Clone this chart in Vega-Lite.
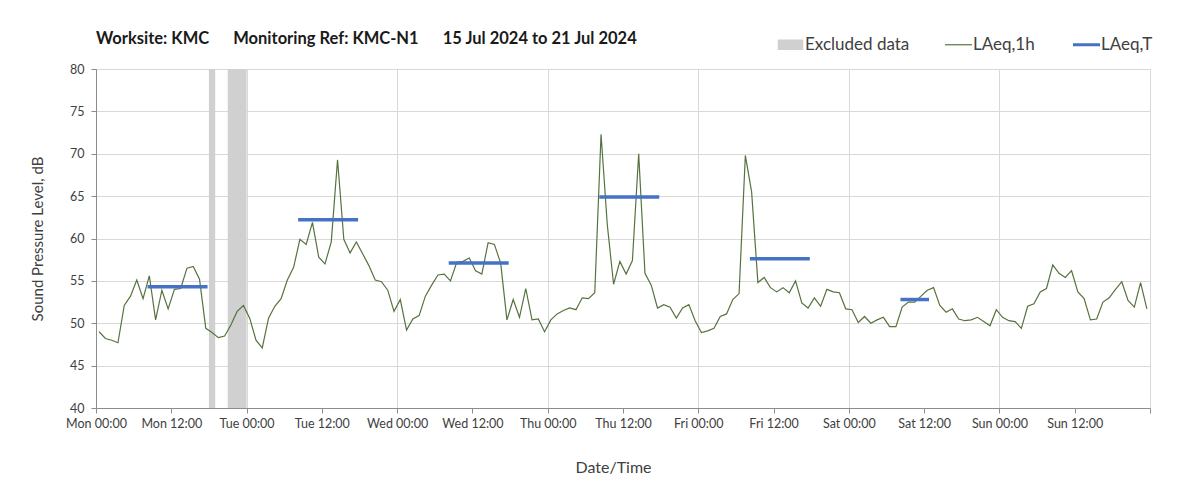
{
  "$schema": "https://vega.github.io/schema/vega-lite/v6.json",
  "width": 1054,
  "height": 339,
  "autosize": {"type": "none"},
  "padding": {"left": 96, "top": 69, "right": 53, "bottom": 91},
  "background": "white",
  "config": {"view": {"stroke": null}, "font": "Lato"},
  "title": {
    "text": "Worksite: KMC\u00a0\u00a0\u00a0\u00a0\u00a0 Monitoring Ref: KMC-N1\u00a0\u00a0\u00a0\u00a0\u00a0 15 Jul 2024 to 21 Jul 2024",
    "anchor": "start",
    "frame": "group",
    "font": "Lato",
    "fontSize": 16.5,
    "fontWeight": "bold",
    "color": "#1a1a1a",
    "baseline": "alphabetic",
    "offset": 22,
    "dy": 46
  },
  "datasets": {
    "excl": [
      {"start": "2024-07-15T18:00", "end": "2024-07-15T19:00"},
      {"start": "2024-07-15T21:00", "end": "2024-07-16T00:00"}
    ],
    "period": [
      {"start": "2024-07-15T08:30", "end": "2024-07-15T17:30", "v": 54.3},
      {"start": "2024-07-16T08:30", "end": "2024-07-16T17:30", "v": 62.2},
      {"start": "2024-07-17T08:30", "end": "2024-07-17T17:30", "v": 57.1},
      {"start": "2024-07-18T08:30", "end": "2024-07-18T17:30", "v": 64.9},
      {"start": "2024-07-19T08:30", "end": "2024-07-19T17:30", "v": 57.6},
      {"start": "2024-07-20T08:30", "end": "2024-07-20T12:30", "v": 52.8}
    ],
    "hourly": [
      {"t": "2024-07-15T00:30", "v": 49.0}, {"t": "2024-07-15T01:30", "v": 48.2}, {"t": "2024-07-15T02:30", "v": 48.0}, {"t": "2024-07-15T03:30", "v": 47.7},
      {"t": "2024-07-15T04:30", "v": 52.1}, {"t": "2024-07-15T05:30", "v": 53.2}, {"t": "2024-07-15T06:30", "v": 55.1}, {"t": "2024-07-15T07:30", "v": 52.9},
      {"t": "2024-07-15T08:30", "v": 55.6}, {"t": "2024-07-15T09:30", "v": 50.4}, {"t": "2024-07-15T10:30", "v": 53.9}, {"t": "2024-07-15T11:30", "v": 51.7},
      {"t": "2024-07-15T12:30", "v": 54.0}, {"t": "2024-07-15T13:30", "v": 54.1}, {"t": "2024-07-15T14:30", "v": 56.5}, {"t": "2024-07-15T15:30", "v": 56.7},
      {"t": "2024-07-15T16:30", "v": 55.2}, {"t": "2024-07-15T17:30", "v": 49.4}, {"t": "2024-07-15T18:30", "v": 48.9}, {"t": "2024-07-15T19:30", "v": 48.3},
      {"t": "2024-07-15T20:30", "v": 48.5}, {"t": "2024-07-15T21:30", "v": 49.8}, {"t": "2024-07-15T22:30", "v": 51.4}, {"t": "2024-07-15T23:30", "v": 52.1},
      {"t": "2024-07-16T00:30", "v": 50.6}, {"t": "2024-07-16T01:30", "v": 48.0}, {"t": "2024-07-16T02:30", "v": 47.1}, {"t": "2024-07-16T03:30", "v": 50.6},
      {"t": "2024-07-16T04:30", "v": 52.0}, {"t": "2024-07-16T05:30", "v": 52.9}, {"t": "2024-07-16T06:30", "v": 55.1}, {"t": "2024-07-16T07:30", "v": 56.6},
      {"t": "2024-07-16T08:30", "v": 59.9}, {"t": "2024-07-16T09:30", "v": 59.3}, {"t": "2024-07-16T10:30", "v": 61.9}, {"t": "2024-07-16T11:30", "v": 57.8},
      {"t": "2024-07-16T12:30", "v": 57.0}, {"t": "2024-07-16T13:30", "v": 59.6}, {"t": "2024-07-16T14:30", "v": 69.3}, {"t": "2024-07-16T15:30", "v": 59.9},
      {"t": "2024-07-16T16:30", "v": 58.3}, {"t": "2024-07-16T17:30", "v": 59.6}, {"t": "2024-07-16T18:30", "v": 58.2}, {"t": "2024-07-16T19:30", "v": 56.8},
      {"t": "2024-07-16T20:30", "v": 55.1}, {"t": "2024-07-16T21:30", "v": 54.9}, {"t": "2024-07-16T22:30", "v": 53.9}, {"t": "2024-07-16T23:30", "v": 51.4},
      {"t": "2024-07-17T00:30", "v": 52.8}, {"t": "2024-07-17T01:30", "v": 49.2}, {"t": "2024-07-17T02:30", "v": 50.5}, {"t": "2024-07-17T03:30", "v": 50.9},
      {"t": "2024-07-17T04:30", "v": 53.2}, {"t": "2024-07-17T05:30", "v": 54.5}, {"t": "2024-07-17T06:30", "v": 55.7}, {"t": "2024-07-17T07:30", "v": 55.8},
      {"t": "2024-07-17T08:30", "v": 55.0}, {"t": "2024-07-17T09:30", "v": 57.2}, {"t": "2024-07-17T10:30", "v": 57.3}, {"t": "2024-07-17T11:30", "v": 57.7},
      {"t": "2024-07-17T12:30", "v": 56.2}, {"t": "2024-07-17T13:30", "v": 55.8}, {"t": "2024-07-17T14:30", "v": 59.5}, {"t": "2024-07-17T15:30", "v": 59.3},
      {"t": "2024-07-17T16:30", "v": 57.1}, {"t": "2024-07-17T17:30", "v": 50.4}, {"t": "2024-07-17T18:30", "v": 52.8}, {"t": "2024-07-17T19:30", "v": 50.7},
      {"t": "2024-07-17T20:30", "v": 54.1}, {"t": "2024-07-17T21:30", "v": 50.4}, {"t": "2024-07-17T22:30", "v": 50.5}, {"t": "2024-07-17T23:30", "v": 49.0},
      {"t": "2024-07-18T00:30", "v": 50.4}, {"t": "2024-07-18T01:30", "v": 51.1}, {"t": "2024-07-18T02:30", "v": 51.5}, {"t": "2024-07-18T03:30", "v": 51.8},
      {"t": "2024-07-18T04:30", "v": 51.6}, {"t": "2024-07-18T05:30", "v": 53.0}, {"t": "2024-07-18T06:30", "v": 52.9}, {"t": "2024-07-18T07:30", "v": 53.6},
      {"t": "2024-07-18T08:30", "v": 72.3}, {"t": "2024-07-18T09:30", "v": 61.6}, {"t": "2024-07-18T10:30", "v": 54.6}, {"t": "2024-07-18T11:30", "v": 57.3},
      {"t": "2024-07-18T12:30", "v": 55.8}, {"t": "2024-07-18T13:30", "v": 57.4}, {"t": "2024-07-18T14:30", "v": 70.0}, {"t": "2024-07-18T15:30", "v": 55.9},
      {"t": "2024-07-18T16:30", "v": 54.5}, {"t": "2024-07-18T17:30", "v": 51.8}, {"t": "2024-07-18T18:30", "v": 52.2}, {"t": "2024-07-18T19:30", "v": 51.9},
      {"t": "2024-07-18T20:30", "v": 50.6}, {"t": "2024-07-18T21:30", "v": 51.8}, {"t": "2024-07-18T22:30", "v": 52.2}, {"t": "2024-07-18T23:30", "v": 50.3},
      {"t": "2024-07-19T00:30", "v": 48.9}, {"t": "2024-07-19T01:30", "v": 49.1}, {"t": "2024-07-19T02:30", "v": 49.4}, {"t": "2024-07-19T03:30", "v": 50.8},
      {"t": "2024-07-19T04:30", "v": 51.1}, {"t": "2024-07-19T05:30", "v": 52.8}, {"t": "2024-07-19T06:30", "v": 53.5}, {"t": "2024-07-19T07:30", "v": 69.8},
      {"t": "2024-07-19T08:30", "v": 65.5}, {"t": "2024-07-19T09:30", "v": 54.8}, {"t": "2024-07-19T10:30", "v": 55.4}, {"t": "2024-07-19T11:30", "v": 54.2},
      {"t": "2024-07-19T12:30", "v": 53.7}, {"t": "2024-07-19T13:30", "v": 54.2}, {"t": "2024-07-19T14:30", "v": 53.6}, {"t": "2024-07-19T15:30", "v": 55.0},
      {"t": "2024-07-19T16:30", "v": 52.4}, {"t": "2024-07-19T17:30", "v": 51.8}, {"t": "2024-07-19T18:30", "v": 53.0}, {"t": "2024-07-19T19:30", "v": 52.0},
      {"t": "2024-07-19T20:30", "v": 54.0}, {"t": "2024-07-19T21:30", "v": 53.7}, {"t": "2024-07-19T22:30", "v": 53.6}, {"t": "2024-07-19T23:30", "v": 51.7},
      {"t": "2024-07-20T00:30", "v": 51.6}, {"t": "2024-07-20T01:30", "v": 50.1}, {"t": "2024-07-20T02:30", "v": 50.8}, {"t": "2024-07-20T03:30", "v": 50.0},
      {"t": "2024-07-20T04:30", "v": 50.4}, {"t": "2024-07-20T05:30", "v": 50.7}, {"t": "2024-07-20T06:30", "v": 49.6}, {"t": "2024-07-20T07:30", "v": 49.6},
      {"t": "2024-07-20T08:30", "v": 51.9}, {"t": "2024-07-20T09:30", "v": 52.5}, {"t": "2024-07-20T10:30", "v": 52.5}, {"t": "2024-07-20T11:30", "v": 53.2},
      {"t": "2024-07-20T12:30", "v": 53.9}, {"t": "2024-07-20T13:30", "v": 54.2}, {"t": "2024-07-20T14:30", "v": 52.1}, {"t": "2024-07-20T15:30", "v": 51.3},
      {"t": "2024-07-20T16:30", "v": 51.7}, {"t": "2024-07-20T17:30", "v": 50.5}, {"t": "2024-07-20T18:30", "v": 50.3}, {"t": "2024-07-20T19:30", "v": 50.4},
      {"t": "2024-07-20T20:30", "v": 50.7}, {"t": "2024-07-20T21:30", "v": 50.2}, {"t": "2024-07-20T22:30", "v": 49.7}, {"t": "2024-07-20T23:30", "v": 51.6},
      {"t": "2024-07-21T00:30", "v": 50.7}, {"t": "2024-07-21T01:30", "v": 50.3}, {"t": "2024-07-21T02:30", "v": 50.2}, {"t": "2024-07-21T03:30", "v": 49.4},
      {"t": "2024-07-21T04:30", "v": 52.0}, {"t": "2024-07-21T05:30", "v": 52.3}, {"t": "2024-07-21T06:30", "v": 53.7}, {"t": "2024-07-21T07:30", "v": 54.1},
      {"t": "2024-07-21T08:30", "v": 56.9}, {"t": "2024-07-21T09:30", "v": 55.9}, {"t": "2024-07-21T10:30", "v": 55.4}, {"t": "2024-07-21T11:30", "v": 56.2},
      {"t": "2024-07-21T12:30", "v": 53.7}, {"t": "2024-07-21T13:30", "v": 52.9}, {"t": "2024-07-21T14:30", "v": 50.4}, {"t": "2024-07-21T15:30", "v": 50.5},
      {"t": "2024-07-21T16:30", "v": 52.5}, {"t": "2024-07-21T17:30", "v": 53.0}, {"t": "2024-07-21T18:30", "v": 54.0}, {"t": "2024-07-21T19:30", "v": 54.9},
      {"t": "2024-07-21T20:30", "v": 52.7}, {"t": "2024-07-21T21:30", "v": 51.9}, {"t": "2024-07-21T22:30", "v": 54.8}, {"t": "2024-07-21T23:30", "v": 51.7}
    ]
  },
  "layer": [
    {
      "data": {"name": "excl"},
      "mark": {"type": "rect"},
      "encoding": {
        "x": {
          "field": "start",
          "type": "temporal",
          "scale": {"domain": [{"year": 2024, "month": 7, "date": 15, "hours": 0}, {"year": 2024, "month": 7, "date": 22, "hours": 0}], "nice": false, "padding": 0},
          "axis": {
            "values": [
              {"year": 2024, "month": 7, "date": 15, "hours": 0}, {"year": 2024, "month": 7, "date": 15, "hours": 12},
              {"year": 2024, "month": 7, "date": 16, "hours": 0}, {"year": 2024, "month": 7, "date": 16, "hours": 12},
              {"year": 2024, "month": 7, "date": 17, "hours": 0}, {"year": 2024, "month": 7, "date": 17, "hours": 12},
              {"year": 2024, "month": 7, "date": 18, "hours": 0}, {"year": 2024, "month": 7, "date": 18, "hours": 12},
              {"year": 2024, "month": 7, "date": 19, "hours": 0}, {"year": 2024, "month": 7, "date": 19, "hours": 12},
              {"year": 2024, "month": 7, "date": 20, "hours": 0}, {"year": 2024, "month": 7, "date": 20, "hours": 12},
              {"year": 2024, "month": 7, "date": 21, "hours": 0}, {"year": 2024, "month": 7, "date": 21, "hours": 12},
              {"year": 2024, "month": 7, "date": 22, "hours": 0}
            ],
            "format": "%a %H:%M",
            "labelExpr": "date(datum.value) == 22 ? '' : datum.label",
            "title": "Date/Time",
            "titleX": 517,
            "grid": true,
            "gridColor": {"condition": {"test": "hours(datum.value) == 12", "value": "transparent"}, "value": "#d9d9d9"},
            "gridWidth": 1,
            "domainColor": "#8c8c8c",
            "tickColor": "#8c8c8c",
            "tickSize": 5,
            "labelPadding": 4,
            "labelFont": "Lato",
            "labelFontSize": 12.5,
            "labelColor": "#404040",
            "labelAngle": 0,
            "labelFlush": false,
            "titleFont": "Lato",
            "titleFontSize": 16,
            "titleFontWeight": "normal",
            "titleColor": "#404040",
            "titlePadding": 30
          }
        },
        "x2": {"field": "end"},
        "y": {
          "datum": 80,
          "type": "quantitative",
          "scale": {"domain": [40, 80], "nice": false, "zero": false},
          "axis": {
            "values": [40, 45, 50, 55, 60, 65, 70, 75, 80],
            "title": "Sound Pressure Level, dB",
            "grid": true,
            "gridColor": "#d9d9d9",
            "domainColor": "#8c8c8c",
            "tickColor": "#8c8c8c",
            "tickSize": 5,
            "labelPadding": 7,
            "labelFont": "Lato",
            "labelFontSize": 12.5,
            "labelColor": "#404040",
            "titleFont": "Lato",
            "titleFontSize": 15,
            "titleFontWeight": "normal",
            "titleColor": "#404040",
            "titlePadding": 24
          }
        },
        "y2": {"datum": 40},
        "color": {
          "datum": "Excluded data",
          "type": "nominal",
          "scale": {"domain": ["Excluded data", "LAeq,1h", "LAeq,T"], "range": ["#d0d0d0", "#56733f", "#4472c4"]},
          "legend": {
            "orient": "none",
            "legendX": 686,
            "legendY": -33,
            "direction": "horizontal",
            "title": null,
            "padding": 0,
            "symbolSize": 729,
            "symbolType": "M-1,0H1",
            "labelFont": "Lato",
            "labelFontSize": 17,
            "labelColor": "#404040",
            "labelOffset": 6,
            "columnPadding": 32,
            "encode": {
              "symbols": {
                "update": {
                  "shape": {"signal": "datum.value === 'Excluded data' ? 'M-0.9,-0.35H0.9V0.35H-0.9Z' : 'M-1,0H1'"},
                  "fill": {"signal": "datum.value === 'Excluded data' ? '#d0d0d0' : 'transparent'"},
                  "stroke": {"signal": "datum.value === 'Excluded data' ? 'transparent' : (datum.value === 'LAeq,T' ? '#4472c4' : '#56733f')"},
                  "strokeWidth": {"signal": "datum.value === 'LAeq,T' ? 3 : 1.2"},
                  "opacity": {"value": 1}
                }
              }
            }
          }
        }
      }
    },
    {
      "data": {"name": "hourly"},
      "mark": {"type": "line", "strokeWidth": 1.2},
      "encoding": {
        "x": {"field": "t", "type": "temporal"},
        "y": {"field": "v", "type": "quantitative"},
        "color": {"datum": "LAeq,1h", "type": "nominal"}
      }
    },
    {
      "data": {"name": "period"},
      "mark": {"type": "rule", "strokeWidth": 3.5, "strokeCap": "square"},
      "encoding": {
        "x": {"field": "start", "type": "temporal"},
        "x2": {"field": "end"},
        "y": {"field": "v", "type": "quantitative"},
        "color": {"datum": "LAeq,T", "type": "nominal"}
      }
    }
  ]
}
